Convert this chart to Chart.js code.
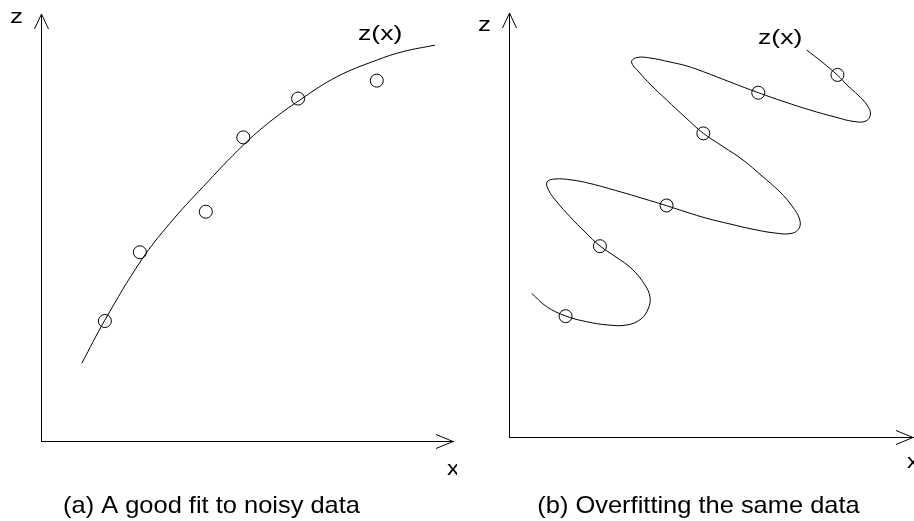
<!DOCTYPE html>
<html>
<head>
<meta charset="utf-8">
<script src="https://cdn.jsdelivr.net/npm/chart.js@4/dist/chart.umd.min.js"></script>
<style>
  html, body { margin: 0; padding: 0; background: #fff; overflow: hidden; }
  #wrap { position: relative; width: 914px; height: 521px; overflow: hidden; }
  canvas { position: absolute; top: 0; }
  #ca { left: 0; }
  #cb { left: 457px; }
</style>
</head>
<body>
<div id="wrap">
  <canvas id="ca" width="457" height="521"></canvas>
  <canvas id="cb" width="457" height="521"></canvas>
</div>
<script>
// ---------- Data (arbitrary units, axes 0..100) ----------
// Panel (a): noisy observations
const dataAX = [15.5, 24.0, 40.0, 49.1, 62.4, 81.5];
const dataAZ = [28.1, 44.2, 53.7, 71.1, 80.2, 84.4];
// Panel (a): smooth fitted curve z(x)
const fitAX = [9.9, 15.5, 24.4, 31.3, 39.4, 49.1, 55.6, 62.9, 71.8, 81.5, 87.9, 95.6];
const fitAZ = [18.2, 28.3, 42.4, 51.0, 59.6, 69.3, 74.8, 79.9, 85.3, 89.2, 91.2, 92.7];

// Panel (b): same observations
const dataBX = [14.0, 22.5, 39.0, 48.1, 61.7, 81.3];
const dataBZ = [28.5, 45.0, 54.6, 71.6, 81.2, 85.4];
// Panel (b): overfitted curve z(x) (traced along its path)
const fitBX = [5.62, 9.33, 14.03, 19.23, 24.50, 29.21, 32.67, 34.53, 34.90, 33.66, 30.45, 26.49, 22.52, 18.81, 15.10, 11.88, 9.78, 9.41, 11.39, 15.59, 20.05, 27.48, 33.17, 39.03, 43.81, 48.94, 54.70, 60.40, 65.84, 69.80, 71.78, 71.91, 70.05, 67.08, 62.62, 57.92, 52.97, 48.09, 43.56, 39.03, 35.15, 32.18, 30.32, 31.68, 34.90, 39.85, 44.06, 48.09, 54.70, 61.71, 68.32, 74.50, 80.69, 85.40, 88.37, 89.48, 88.61, 86.39, 83.91, 81.26, 77.48, 73.69];
const fitBZ = [33.89, 30.73, 28.54, 27.19, 26.42, 26.42, 27.83, 30.42, 33.02, 35.85, 39.62, 42.45, 45.05, 48.35, 51.96, 55.42, 58.25, 60.14, 60.85, 60.61, 59.79, 57.85, 56.25, 54.55, 53.07, 51.58, 50.24, 48.99, 48.11, 48.00, 49.17, 51.42, 54.48, 57.78, 61.56, 65.33, 68.51, 71.63, 75.47, 79.48, 83.02, 86.08, 88.44, 89.50, 89.39, 88.44, 87.50, 86.16, 83.73, 81.20, 79.01, 77.12, 75.47, 74.41, 74.53, 76.18, 78.30, 80.66, 82.78, 85.38, 88.44, 91.27];

const axisRange = [0, 100];
const captionA = "(a) A good fit to noisy data";
const captionB = "(b) Overfitting the same data";
const curveLabel = "z(x)";
const xLabel = "x";
const zLabel = "z";

const FONT = "'Liberation Sans', Arial, sans-serif";

function pts(xs, zs) { return xs.map((x, i) => ({ x: x, y: zs[i] })); }

function stretchText(ctx, text, x, y, size, sx, align) {
  ctx.save();
  ctx.font = size + 'px ' + FONT;
  ctx.textAlign = align;
  ctx.textBaseline = 'alphabetic';
  ctx.translate(x, y);
  ctx.scale(sx, 1);
  ctx.fillText(text, 0, 0);
  ctx.restore();
}

const decor = {
  id: 'decor',
  afterDraw(chart, args, opts) {
    const ctx = chart.ctx;
    const a = chart.chartArea;
    ctx.save();
    ctx.strokeStyle = '#000';
    ctx.lineWidth = 1;
    // arrow on z axis (top)
    const xl = Math.round(a.left) + 0.5;
    ctx.beginPath();
    ctx.moveTo(xl - 7, a.top + 15);
    ctx.lineTo(xl, a.top);
    ctx.lineTo(xl + 7, a.top + 15);
    ctx.stroke();
    // arrow on x axis (right)
    const yb = Math.round(a.bottom) + 0.5;
    ctx.beginPath();
    ctx.moveTo(a.right - 17, yb - 7);
    ctx.lineTo(a.right, yb);
    ctx.lineTo(a.right - 17, yb + 7);
    ctx.stroke();
    ctx.fillStyle = '#000';
    stretchText(ctx, zLabel, opts.zPos[0], opts.zPos[1], 20, 1.3, 'left');
    stretchText(ctx, xLabel, opts.xPos[0], opts.xPos[1], 20, 1.2, 'left');
    stretchText(ctx, curveLabel, opts.cPos[0], opts.cPos[1], 20, 1.33, 'left');
    stretchText(ctx, opts.caption, opts.capPos[0], opts.capPos[1], 24, 1.06, 'center');
    ctx.restore();
  }
};

function makeChart(id, dX, dZ, fX, fZ, pad, decorOpts) {
  return new Chart(document.getElementById(id), {
    type: 'scatter',
    data: {
      datasets: [
        {
          label: 'fit',
          data: pts(fX, fZ),
          showLine: true,
          borderColor: '#000',
          borderWidth: 1,
          pointRadius: 0,
          tension: 0.4,
          fill: false,
          clip: false
        },
        {
          label: 'data',
          data: pts(dX, dZ),
          showLine: false,
          pointStyle: 'circle',
          pointRadius: 6.5,
          pointBorderWidth: 1,
          borderColor: '#000',
          backgroundColor: 'rgba(0,0,0,0)',
          clip: false
        }
      ]
    },
    options: {
      responsive: false,
      animation: false,
      devicePixelRatio: 1,
      layout: { padding: pad, autoPadding: false },
      plugins: {
        legend: { display: false },
        tooltip: { enabled: false },
        title: { display: false },
        decor: decorOpts
      },
      scales: {
        x: {
          type: 'linear', min: axisRange[0], max: axisRange[1],
          grid: { display: false, drawTicks: false },
          border: { display: true, color: '#000', width: 1 },
          ticks: { display: false }
        },
        y: {
          type: 'linear', min: axisRange[0], max: axisRange[1],
          grid: { display: false, drawTicks: false },
          border: { display: true, color: '#000', width: 1 },
          ticks: { display: false }
        }
      }
    },
    plugins: [decor]
  });
}

makeChart('ca', dataAX, dataAZ, fitAX, fitAZ,
  { left: 41, top: 14, right: 4, bottom: 80 },
  { zPos: [10, 23], xPos: [447, 475], cPos: [358, 40], capPos: [211.5, 513], caption: captionA });

makeChart('cb', dataBX, dataBZ, fitBX, fitBZ,
  { left: 52, top: 13, right: 1, bottom: 84 },
  { zPos: [21, 31], xPos: [450, 468], cPos: [301, 44], capPos: [241.5, 513], caption: captionB });
</script>
</body>
</html>
